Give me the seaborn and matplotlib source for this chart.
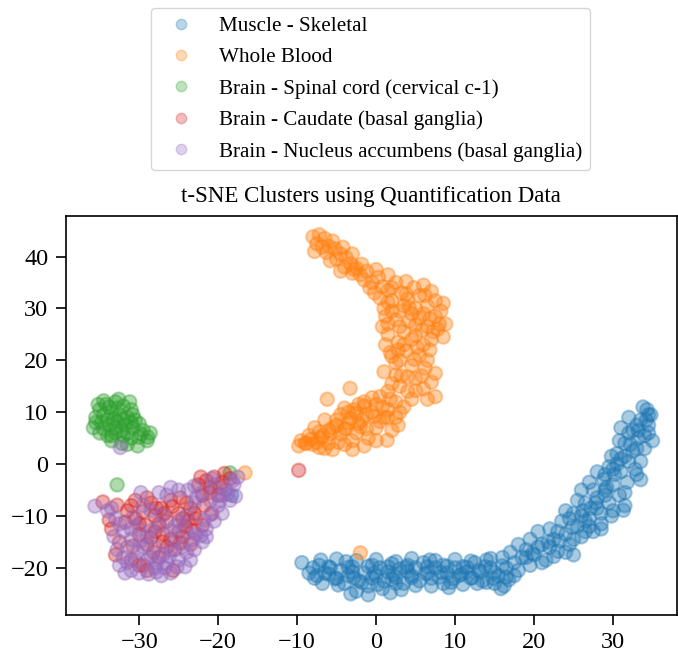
import pandas as pd
import seaborn as sns
import matplotlib.pyplot as plt
from matplotlib.lines import Line2D

tissues = ['Muscle - Skeletal', 'Whole Blood', 'Brain - Spinal cord (cervical c-1)',
           'Brain - Caudate (basal ganglia)', 'Brain - Nucleus accumbens (basal ganglia)']

muscle_x = [-9.4, -8.0, -7.2, -6.5, -5.8, -5.0, -4.5, -4.0, -3.5, -3.0, -2.5, -2.2, -1.5, -1.0, -0.5, 0.0,
            0.5, 1.0, 1.5, 2.0, 2.5, 3.0, 3.5, 4.0, 4.5, 5.0, 5.5, 6.0, 6.5, 7.0, 7.5, 8.0, 8.5, 9.0,
            9.5, 10.0, 10.5, 11.0, 11.5, 12.0, 12.5, 13.0, 13.5, 14.0, 14.5, 15.0, 15.5, 16.0, 16.5,
            17.0, 17.5, 18.0, 18.5, 19.0, 19.5, 20.0, 20.5, 21.0, 21.5, 22.0, 22.5, 23.0, 23.5, 24.0,
            24.5, 25.0, 25.5, 26.0, 26.5, 27.0, 27.5, 28.0, 28.5, 28.8, 29.0, 29.5, 30.0, 30.0, 30.5,
            31.0, 31.5, 31.5, 32.0, 32.5, 33.0, 33.0, 33.5, 34.0, 34.3, 34.5, 34.8, 35.0, 33.8, 32.0,
            31.0, 30.5, 29.0, -7.5, -3.8, 0.8, 3.2, 6.8, 9.2, 12.8, 15.8, 17.5, 19.5, 22.0, 25.0,
            24.0, 26.5, 28.0, 31.5, 27.5, 33.5, 31.3, 26.0, -18.3,
            -7.0, -5.0, -2.5, 0.0, 2.5, 4.5, 7.5, 10.0, 12.0, 14.5,
            -8.5, -6.0, -3.0, -0.2, 2.2, 4.0, 6.2, 8.2, 10.8, 13.2, 15.0, 16.5,
            -6.8, -4.8, -1.8, 0.2, 2.5, 5.0, 8.5, 11.0, 14.0, 16.2, -3.2, -1.0, 1.8,
            18.0, 19.0, 20.5, 21.0, 22.5, 23.0, 24.0, 25.0, 26.0, 26.5, 27.2, 28.0, 28.5, 29.2, 29.5,
            30.2, 30.8, 31.5, 31.8, 32.5, 32.8, 33.2, 33.5, 34.0, 34.5, 33.0, 34.2, 32.0, 30.8, 29.8,
            27.0, 25.5, 24.5,
            -6.0, -3.5, -1.0, 1.5, 3.8, 6.5, 9.0, 11.5, 13.8, 16.0,
            -7.8, -5.2, -2.8, -0.5, 2.0, 4.5, 7.0, 9.8, 12.2, 14.8, 16.8,
            19.8, 21.8, 23.2, 24.8, 26.2, 27.8, 29.0, 30.0, 31.0, 32.2, 33.2, 34.5, 28.5, 29.8, 27.0]
muscle_y = [-19.0, -20.0, -19.5, -21.0, -20.0, -22.0, -20.5, -23.0, -21.5, -19.8, -24.5, -22.5, -21.0,
            -23.5, -19.5, -21.5, -20.0, -22.5, -20.8, -19.2, -21.8, -20.2, -23.0, -19.5, -21.5, -20.0,
            -22.5, -19.0, -21.0, -23.5, -20.0, -21.8, -19.5, -21.0, -22.8, -20.0, -21.5, -19.8, -20.8,
            -22.0, -19.0, -20.5, -22.5, -18.5, -20.0, -23.0, -21.5, -18.0, -20.0, -17.0, -19.0, -15.5,
            -18.0, -16.5, -14.5, -17.5, -13.0, -15.5, -18.5, -12.5, -14.5, -16.8, -11.0, -13.5, -15.5,
            -9.5, -12.0, -14.0, -7.5, -10.5, -5.0, -8.5, -11.5, -3.0, -6.0, -0.5, -4.0, -9.0, 2.0,
            -1.5, -5.5, 4.0, 0.5, 6.5, 3.0, -2.0, 8.5, 5.5, 10.5, 7.5, 9.5, 4.5, 11.0, 9.0, 7.0, 0.0,
            -2.0, -21.5, -18.8, -24.0, -24.2, -18.5, -23.8, -23.0, -24.0, -21.5, -19.5, -16.0, -17.5,
            -9.0, -11.0, -1.5, -8.0, -13.0, -3.0, -8.9, -5.0, -6.0,
            -18.5, -18.3, -18.6, -18.4, -18.8, -18.2, -18.6, -18.4, -18.7, -18.2,
            -21.0, -21.2, -20.8, -21.0, -21.3, -20.7, -21.1, -20.9, -21.2, -20.8, -20.9, -21.8,
            -23.0, -23.3, -22.8, -23.2, -23.0, -23.4, -23.0, -23.2, -22.8, -23.5, -25.0, -25.2, -24.8,
            -20.5, -18.0, -16.0, -19.0, -17.8, -13.0, -17.0, -14.5, -10.0, -13.0, -8.5, -6.5, -9.5,
            -4.5, -7.5, -2.0, -6.0, 1.5, -3.5, 2.5, -1.0, 5.0, 0.5, 3.0, 6.0, 7.5, 8.5, 6.0, 4.5, 1.5,
            -3.5, -7.0, -10.5,
            -19.8, -19.9, -19.7, -19.8, -19.9, -19.8, -19.7, -19.9, -19.8, -19.6,
            -22.0, -22.1, -21.9, -22.0, -22.2, -21.9, -22.0, -22.1, -21.9, -22.0, -22.3,
            -17.2, -15.0, -14.8, -12.2, -9.0, -7.5, -5.0, -1.0, 1.0, 3.8, 6.5, 9.5, -12.5, -10.0, -12.0]

blood_x = [-8.0, -7.2, -6.5, -7.5, -6.0, -5.2, -6.3, -4.5, -5.0, -3.8, -3.2, -4.0, -2.5, -2.0, -3.0,
           -1.2, -1.5, -0.5, 0.3, 0.8, -0.8, 1.5, 2.5, 3.2, 2.0, 4.0, 4.8, 5.5, 1.0, 3.0, 5.0, 6.5,
           7.5, 8.2, 6.8, 4.2, 2.5, 1.2, 8.0, 7.2, 5.8, 3.5, 1.5, 0.8, 4.5, 2.8, 6.0, 1.8, 3.8, 5.5,
           2.5, 4.5, 6.2, 1.0, 3.2, 5.0, 7.0, 2.0, 6.0, 7.5, 4.0, -6.2, 0.5, -1.5, 2.5, -2.8, -0.5,
           1.5, 3.5, -4.5, -3.5, -1.8, 0.5, 2.5, -6.5, -5.5, -7.8, -8.5, -6.8, -4.5, -2.5, -9.5, -9.8,
           -8.0, -6.0, -4.0, -5.5, -1.0, 1.4, 0.0, 2.0, -3.0, -3.3, 1.4, -16.6, -2.0,
           -7.8, -6.8, -5.5, -4.2, -5.8, -3.0, -2.8, -4.5, -1.8, 0.0, -0.2, 1.5, 2.0, 3.8, 6.0, 6.2,
           7.0, 3.5, 4.5, 6.0, 7.5, 8.5, 8.8, 2.0, 0.5, 1.5, 3.0, 5.0, 6.5, 8.5, 7.0, 5.2, 3.5, 1.2,
           2.0, 3.0, 4.8, 6.5, 7.5, 5.8, 4.0, 2.5, 1.5, 3.0, 5.0, 6.5, 4.5, 0.0, -1.2, 1.0, -2.2,
           3.0, -3.8, -5.0, -7.2, -8.8, -3.0, -7.2, -2.0, 0.0, -5.8, -1.5, 2.8, -4.0,
           -8.2, -7.0, -6.0, -5.0, -4.0, -3.2, -2.2, -1.2, -0.2, 0.8, 1.8, -9.0, -7.5, -6.5, -4.8,
           -3.5, -2.5, -1.5, -0.5, 3.8, 5.5, 7.8, 2.8, 4.2, 6.8, 1.5, 5.0]
blood_y = [43.8, 44.2, 43.5, 42.5, 42.0, 41.5, 40.8, 40.5, 39.5, 39.8, 38.6, 38.0, 37.8, 36.5, 36.8,
           37.2, 35.5, 35.0, 36.0, 34.2, 34.0, 33.5, 35.0, 33.0, 31.5, 31.8, 34.0, 32.5, 30.0, 29.5,
           30.0, 30.5, 31.5, 29.5, 28.0, 27.5, 27.8, 28.5, 27.0, 25.5, 25.8, 25.5, 25.0, 26.5, 24.0,
           23.5, 23.0, 21.5, 21.8, 21.0, 19.5, 19.0, 18.5, 17.8, 17.0, 16.5, 15.8, 15.5, 14.5, 13.0,
           14.0, 12.5, 13.0, 12.0, 12.0, 10.5, 10.0, 10.5, 11.0, 9.5, 8.0, 8.5, 8.2, 9.0, 8.5, 7.0,
           7.0, 5.5, 5.5, 5.8, 6.0, 4.5, 3.5, 3.8, 4.0, 3.8, 2.8, 5.0, 4.6, 7.0, 6.5, 4.5, 14.6, 9.0,
           -1.7, -17.1,
           41.0, 41.8, 43.0, 41.8, 39.2, 40.5, 37.5, 37.2, 38.5, 37.5, 33.0, 36.5, 34.0, 35.2, 34.5,
           32.5, 33.3, 30.5, 29.0, 29.0, 28.5, 31.0, 27.0, 29.5, 32.0, 27.0, 26.5, 26.8, 26.5, 24.5,
           24.0, 22.5, 23.0, 23.0, 20.8, 20.0, 20.2, 20.0, 17.5, 17.0, 16.8, 17.2, 14.0, 15.0, 14.2,
           12.5, 12.5, 11.5, 9.5, 9.0, 11.5, 10.0, 6.8, 8.5, 6.2, 4.0, 2.8, 3.2, 7.2, 4.5, 5.8, 3.5,
           7.5, 10.8,
           4.8, 5.0, 6.5, 7.5, 6.8, 8.8, 7.8, 6.8, 9.2, 11.0, 12.5, 4.0, 4.2, 3.0, 4.2, 10.0, 9.8,
           11.2, 12.8, 32.8, 28.2, 26.0, 22.0, 30.2, 22.0, 31.2, 24.8]

spinal_x = [-35.0, -34.2, -33.0, -32.0, -31.0, -35.5, -34.5, -33.5, -32.5, -31.5, -30.5, -35.8, -34.8,
            -33.8, -32.8, -31.8, -30.8, -29.5, -28.6, -35.0, -34.0, -33.0, -32.0, -31.0, -30.0, -29.0,
            -33.5, -30.2, -34.5, -33.2, -31.2, -32.2, -32.8, -18.5,
            -35.2, -33.8, -32.8, -34.0, -32.0, -31.0, -35.5, -33.0, -32.2, -30.0, -34.5, -33.5, -29.8,
            -31.5, -32.6, -30.8, -28.9, -31.5]
spinal_y = [10.5, 11.5, 12.0, 11.2, 10.5, 9.0, 9.5, 10.0, 9.5, 9.0, 8.5, 7.0, 8.0, 7.5, 8.2, 7.5, 7.0,
            6.5, 6.0, 6.0, 5.5, 6.0, 5.5, 5.0, 5.2, 4.5, 4.5, 3.5, 12.2, 8.8, 12.0, 4.0, -4.0, -1.7,
            11.5, 11.0, 10.8, 8.5, 8.5, 8.0, 8.0, 7.0, 6.5, 7.8, 6.8, 5.5, 5.8, 6.0, 12.5, 9.5, 5.2, 3.8]

caudate_x = [-34.6, -32.8, -31.5, -30.5, -29.5, -28.5, -28.0, -27.2, -26.5, -26.0, -25.0, -24.2, -23.5,
             -22.8, -22.0, -21.0, -20.5, -19.5, -18.5, -21.5, -20.0, -22.5, -33.5, -32.5, -31.0, -30.0,
             -29.0, -28.0, -27.0, -26.0, -25.5, -24.5, -23.5, -29.5, -29.0, -25.7, -27.5, -30.5, -29.2,
             -26.8, -24.8, -23.2, -21.8, -20.8, -31.8, -33.0, -28.2, -9.8,
             -31.0, -29.0, -27.5, -25.8, -24.5, -23.0, -22.0, -21.0, -19.8, -28.5, -26.5, -24.8, -27.0,
             -30.8, -33.8, -30.0, -22.2, -19.2, -24.0, -25.0, -27.8, -23.8, -30.0]
caudate_y = [-7.3, -7.9, -9.0, -10.5, -9.2, -7.5, -10.0, -8.5, -11.0, -7.0, -9.5, -12.0, -8.5, -10.5,
             -6.0, -4.5, -2.5, -3.5, -2.8, -3.2, -6.0, -4.0, -12.5, -15.0, -18.5, -13.5, -15.5, -13.0,
             -15.0, -14.5, -16.5, -14.0, -15.5, -19.5, -20.5, -20.5, -18.0, -7.0, -11.8, -9.5, -6.5,
             -12.8, -8.0, -9.5, -11.2, -17.5, -17.0, -1.2,
             -8.0, -6.5, -11.5, -8.2, -10.5, -9.5, -11.8, -5.5, -4.5, -14.2, -16.0, -15.2, -13.5,
             -15.8, -10.8, -19.5, -2.5, -1.8, -7.5, -13.0, -8.5, -11.0, -11.5]

accumbens_x = [-35.6, -34.0, -33.0, -32.0, -33.2, -31.5, -32.0, -32.5, -31.0, -30.0, -30.2, -29.0, -28.0,
               -27.2, -26.5, -26.0, -25.0, -24.0, -23.0, -22.0, -22.8, -21.5, -20.5, -19.5, -20.0, -18.5,
               -19.0, -18.0, -17.5, -20.5, -22.0, -23.8, -25.0, -26.5, -27.5, -28.5, -29.5, -30.2, -29.0,
               -27.5, -26.0, -25.0, -24.0, -23.0, -28.0, -27.0, -25.5, -24.2, -21.0, -18.8, -29.8, -31.0,
               -27.8, -17.8, -32.4,
               -33.5, -32.5, -31.0, -30.5, -29.5, -28.8, -27.8, -26.8, -25.2, -24.5, -23.2, -22.2, -21.0,
               -19.8, -18.2, -20.8, -23.0, -26.0, -27.0, -25.5, -28.5, -30.8, -32.8, -31.8, -26.2, -24.0,
               -21.8, -31.5, -28.5, -26.0, -23.5, -29.8, -21.5, -22.8, -19.5]
accumbens_y = [-8.1, -9.0, -10.5, -13.0, -14.0, -16.0, -18.0, -19.5, -20.5, -21.0, -17.0, -18.5, -20.0,
               -21.5, -19.0, -21.0, -18.5, -17.0, -16.5, -15.0, -13.5, -12.5, -11.0, -9.5, -8.0, -7.0,
               -5.0, -4.0, -2.5, -4.0, -5.5, -5.0, -5.0, -6.0, -5.5, -9.0, -8.0, -12.0, -14.0, -12.0,
               -12.8, -11.0, -10.0, -7.5, -16.0, -17.5, -14.8, -19.8, -7.0, -5.8, -5.5, -14.5, -20.8,
               -6.2, 3.2,
               -8.5, -11.5, -12.5, -18.5, -16.0, -21.2, -19.0, -20.0, -19.8, -16.0, -14.5, -13.8, -9.8,
               -7.0, -3.2, -2.8, -4.2, -4.5, -9.8, -12.0, -12.8, -10.2, -16.5, -21.0, -17.8, -13.0,
               -10.8, -19.0, -18.0, -16.5, -18.5, -14.8, -14.0, -6.5, -6.0]

xs = [muscle_x, blood_x, spinal_x, caudate_x, accumbens_x]
ys = [muscle_y, blood_y, spinal_y, caudate_y, accumbens_y]
frames = [pd.DataFrame({'x': a, 'y': b, 'tissue': t}) for a, b, t in zip(xs, ys, tissues)]
df = pd.concat(frames, ignore_index=True)

plt.rcParams['font.family'] = ['Liberation Serif', 'DejaVu Serif']
plt.rcParams['axes.linewidth'] = 1.2

colors = sns.color_palette('tab10', 5)
fig = plt.figure(figsize=(6.78, 6.55), dpi=100)
ax = fig.add_axes([0.097, 0.061, 0.9015, 0.609])
sns.scatterplot(data=df, x='x', y='y', hue='tissue', hue_order=tissues, palette=colors,
                alpha=0.38, s=95, edgecolor='face', linewidth=1.5, legend=False, ax=ax)
ax.set_xlim(-39.3, 38.1)
ax.set_ylim(-29.1, 47.8)
ax.set_xlabel('')
ax.set_ylabel('')
ax.set_xticks([-30, -20, -10, 0, 10, 20, 30])
ax.set_yticks([-20, -10, 0, 10, 20, 30, 40])
ax.tick_params(labelsize=17.5, length=7.5, width=1.2, pad=5)
ax.set_title('t-SNE Clusters using Quantification Data', fontsize=16.5, pad=10)

handles = [Line2D([], [], linestyle='', marker='o', markersize=7.5, color=c, alpha=0.3) for c in colors]
fig.legend(handles, tissues, loc='upper center', bbox_to_anchor=(0.547, 0.988), fontsize=15.2,
           handlelength=2.0, handletextpad=0.8, labelspacing=0.55, borderpad=0.4, borderaxespad=0)

plt.savefig('out.png', dpi=100)
